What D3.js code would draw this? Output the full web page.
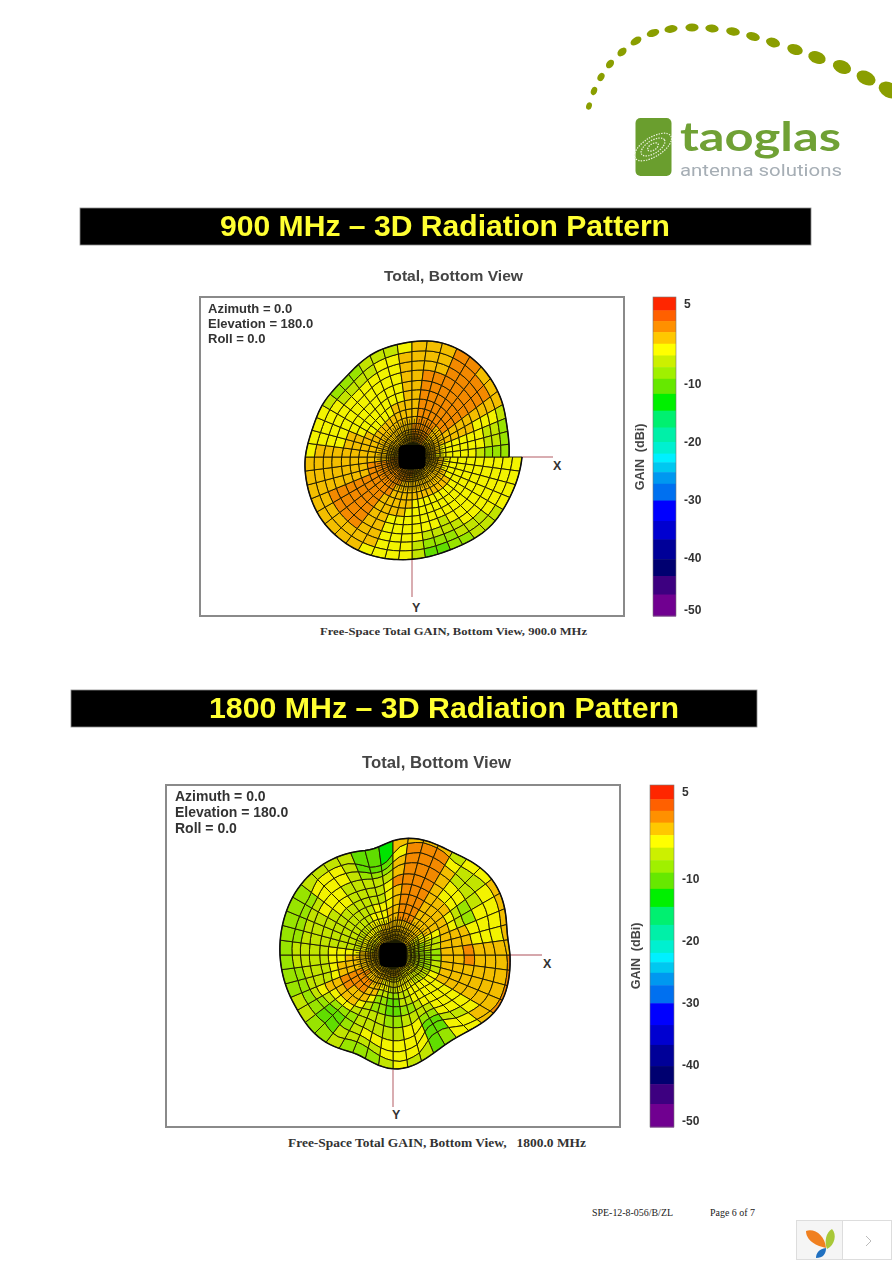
<!DOCTYPE html>
<html><head><meta charset="utf-8">
<script src="https://cdn.jsdelivr.net/npm/d3@7/dist/d3.min.js"></script>
<style>html,body{margin:0;padding:0;background:#fff;overflow:hidden}svg{display:block}</style>
</head><body><div id="c"></div>
<script>
const gainThresholds=[2.7,.85,-1.05,-3.06,-5.08,-7.1,-9.1,-11.7,-14.6,-17.5,-20,-22,-23.5,-25.2,-27.2,-30.1,-33.6,-36.8,-40.2,-43.1,-46.3];
const bandColors=["#ff2800","#ff6000","#ff9000","#ffc800","#ffff00","#ccf000","#a0f000","#66e800","#00f000","#00f070","#00f0a8","#00f0d0","#00f0ff","#00c8f0","#0098f0","#0070f0","#0000ff","#0000d0","#000098","#000070","#3c0080","#700090"];
const gainTicks=[5,-10,-20,-30,-40,-50];
const ringFractions=[.13,.165,.2,.24,.29,.35,.42,.5,.58,.66,.75,.83,.915,1];
const extraRings=[.15,.18,.22];
// rim radius per azimuth, every 10 degrees clockwise from +X in this bottom view (37 values; first/last differ at the seam)
const rim900=[1.10,1.08,1.06,1.05,1.05,1.03,1.01,1.00,1.01,1.02,1.04,1.06,1.08,1.09,1.10,1.10,1.09,1.08,1.07,1.04,1.03,1.04,1.03,1.03,1.07,1.11,1.13,1.15,1.18,1.18,1.16,1.13,1.09,1.05,1.00,.98,.97];
const rim1800=[1.17,1.18,1.19,1.17,1.10,1.04,1.03,1.07,1.13,1.15,1.10,1.04,1.08,1.11,1.11,1.10,1.11,1.12,1.13,1.14,1.15,1.16,1.16,1.15,1.13,1.10,1.06,1.15,1.19,1.19,1.18,1.22,1.25,1.24,1.20,1.15,1.17];
const gain900=[
[-2,-2,-2,-2,-3.5,-3.5,-4,-4,-4,-4,-4,-4,-4],
[-2,-2,-2,-2,-3.5,-3.5,-4,-4,-4,-4,-4,-4,-4],
[-2,-2,-2,-2,-2.5,-3.5,-3.5,-4,-4,-4,-4,-4,-4],
[-2,-2,-2,-2,-2,-2.5,-3.5,-4,-4,-4,-4,-4,-5.5],
[-2,-2,-2,-2,-2,-2.5,-3.5,-4,-4,-4,-4,-5.5,-6],
[-2,-2,-2,-2,-2,-2.5,-3.5,-3.5,-4,-4,-5.5,-6,-7.5],
[-2,-2,-2,-2,-2,-2.5,-3.5,-4,-4,-5.5,-6,-8,-8],
[-2,-2,-2,-2,-2,-2.5,-3.5,-4,-4,-4,-6,-8,-9.5],
[-1,-2,-2,-2,-2,-2,-3.5,-3.5,-4,-4,-4,-5.5,-6],
[-1,-1,-2,-2,-2,-2,-2.5,-3.5,-4,-4,-4,-4,-4],
[-1,-1,-1,-2,-2,-2,-2,-2.5,-3.5,-4,-4,-3.5,-3.5],
[-1,-1,-1,-1,-2,-2,-2,-2,-2,-2.5,-2.5,-2.5,-3.5],
[-.9,-.9,-.9,-.9,-.9,-.9,-1.5,-1.5,-1.5,-1.5,-2,-2,-2.5],
[-.9,-.9,-.9,-.9,-.5,-.5,-.5,-.9,-.5,-.5,-.5,-1.5,-2],
[-.9,-.9,-.9,-.5,-.5,-.5,-.5,-.5,-.5,-.5,-.5,-1.5,-2],
[-.9,-.9,-.9,-.5,-.5,-.5,-.5,-.5,-.5,-.5,-.9,-1.5,-2],
[-.9,-.9,-.9,-.5,-.5,-.5,-1.5,-1.5,-1.5,-1.5,-2,-2,-2],
[-1,-1,-1.5,-1.5,-1.5,-1.5,-1.5,-2,-2,-2,-2,-2,-2],
[-1.5,-1.5,-1.5,-2,-2,-2,-2,-2,-2,-2.5,-2.5,-2.5,-3.5],
[-2,-2,-2,-2,-2,-2,-2,-2.5,-2.5,-3.5,-3.5,-3.5,-3.5],
[-2,-2,-2,-2,-2,-2,-2.5,-3.5,-3.5,-4,-4,-4,-4.5],
[-2,-2,-2,-2,-2,-2.5,-3.5,-3.5,-4,-4,-4,-4.5,-5.5],
[-2,-2,-2,-2,-2,-2.5,-3.5,-3.5,-4,-4,-4.5,-5.5,-7.5],
[-2,-2,-2,-2,-2.5,-2.5,-3.5,-4,-4,-4,-4.5,-5.5,-7.5],
[-2,-2,-2,-2,-2.5,-2.5,-3.5,-4,-4,-4,-4,-5.5,-6],
[-2,-2,-2,-2,-2,-2.5,-2.5,-3.5,-3.5,-3.5,-4,-4,-5.5],
[-1.5,-1.5,-2,-2,-2,-2,-2,-2.5,-2.5,-2.5,-2.5,-2.5,-3.5],
[-.9,-.9,-.9,-.9,-1.5,-1.5,-1.5,-1.5,-1.5,-1.5,-2,-2,-2],
[-.9,-.9,-.5,-.5,-.5,-.5,-.5,-.5,-.9,-.9,-1.5,-1.5,-1.5],
[-.9,-.9,-.5,-.5,-.5,-.5,-.5,-.5,-.5,-.5,-.5,-.5,-.5],
[-1,-1,-.9,-.5,-.5,-.5,-.5,-.5,-.5,-.5,-.5,-.5,-.5],
[-1.5,-1.5,-1.5,-1.5,-1.5,-.9,-.9,-.5,-.5,-.5,-.5,-.9,-1.5],
[-2,-2,-2,-2,-2,-1.5,-1.5,-1.5,-1.5,-1.5,-2,-2,-2.5],
[-2,-2,-2,-2.5,-2.5,-2.5,-2.5,-2.5,-2.5,-3.5,-3.5,-3.5,-5.5],
[-2,-2,-2.5,-2.5,-3.5,-3.5,-3.5,-3.5,-4,-4,-5.5,-6,-7.5],
[-2,-2.5,-2.5,-3.5,-3.5,-3.5,-4,-4,-4.5,-6,-7.5,-9,-8]];
const gain1800=[
[-5,-6,-7,-8,-9,-8,-2,-1.5,-.5,-1.5,-1.5,-1.5,-.5],
[-5,-6,-7,-8,-8,-7,-2,-1.5,-1.5,-2,-2,-1.5,-.5],
[-4,-5,-6,-7,-7,-5,-2.5,-2,-2.5,-2.8,-2.5,-1.5,-.5],
[-3,-4,-5,-6,-6,-4.5,-3.5,-3.5,-4,-4,-4,-3,-2.5],
[-3,-4,-4.5,-5.5,-5.5,-4.5,-4,-4,-4,-4.5,-5.5,-4.5,-4],
[-3,-3.5,-4,-4.5,-4.5,-4,-4,-4.5,-5.5,-7.5,-9.5,-10,-8],
[-3,-3.5,-4,-4,-4,-4,-4.5,-5.5,-6,-8,-10,-10,-9.5],
[-3,-3,-3.5,-4,-4.5,-5.5,-6.5,-7.5,-6,-4.5,-4,-4,-5.5],
[-2.5,-3,-3.5,-4.5,-5.5,-7.5,-9.5,-9.5,-7.5,-5.5,-3.5,-3.5,-4],
[-2.5,-3,-3.5,-4.5,-5.5,-8,-9.5,-9.5,-7.5,-5.5,-4,-4,-6],
[-2,-2.5,-3,-3.5,-4.5,-6,-8,-7.5,-6,-5.5,-4.5,-5.5,-7.5],
[-2,-2,-2.5,-2.5,-2.5,-3,-4.5,-5.5,-6,-6,-6,-6.5,-8],
[-2,-2,-2,-2,-1.5,-1.5,-2,-3.5,-5.5,-8,-8,-6,-6],
[-2,-2,-1.5,-1.5,-.5,-.5,-1.5,-2.5,-4.5,-7.5,-10,-9.5,-7.5],
[-2,-2,-1.5,-1,-.5,-.5,-.5,-1.5,-3.5,-5.5,-8,-8.5,-6],
[-2,-2,-1.5,-1.5,-1,-.5,-1,-1.5,-2.5,-4,-5.5,-7.5,-6],
[-2.5,-2.5,-2.5,-2,-2,-1.5,-2.5,-3.5,-5.5,-5.5,-5.5,-7.5,-7.5],
[-2.8,-2.8,-2.8,-2.5,-2.5,-2.5,-3.5,-4,-5.5,-5.5,-5.5,-6.5,-7.5],
[-2.8,-2.8,-2.8,-2.8,-3.5,-3.5,-4,-4.5,-5.5,-6,-6,-6,-7.5],
[-2.8,-3.5,-4,-4.5,-5.5,-5.5,-5.5,-6,-6,-6,-6,-7.5,-7.5],
[-2.8,-3.5,-4,-4.5,-5.5,-5.5,-6,-6,-6,-5.5,-6,-7.5,-8.5],
[-2.8,-3.5,-4,-4.5,-5.5,-5.5,-5.5,-6,-5.5,-4.5,-5.5,-7.5,-8.5],
[-2.8,-3.5,-4,-4.5,-5.5,-5.5,-5.5,-5.5,-4.5,-4.5,-4.5,-3.5,-6],
[-2.8,-2.8,-3.5,-4,-4.5,-5.5,-5.5,-5.5,-5.5,-5.5,-4.5,-3.5,-6],
[-2.5,-2.8,-2.8,-3.5,-4,-4.5,-5.5,-5.5,-6,-6,-5.5,-5.5,-6],
[-2,-2.5,-2.8,-2.8,-3.5,-4,-4.5,-5.5,-6,-6,-7.5,-10,-11],
[-2,-2,-2.5,-2.5,-2.8,-2.8,-3.5,-4,-4.5,-5.5,-8,-11,-12],
[-1.5,-1.5,-2,-2,-1.5,-1.5,-1.5,-1.5,-1,-2,-2.8,-3.5,-2.5],
[-1.5,-1.5,-1.5,-1.5,-1,-.5,-.5,-.5,-.5,-.5,-.5,-.5,-1.5],
[-2,-2,-1.5,-1.5,-1,-.5,-.5,-.5,-.5,-.5,-.5,-1,-1.5],
[-2,-2,-2,-2,-1.5,-1.5,-1.5,-1.5,-1.5,-2,-2.5,-4,-5.5],
[-2.5,-2.8,-2.8,-2.8,-2.5,-2,-2,-2.5,-3.5,-4.5,-5.5,-5.5,-4],
[-2.8,-3.5,-3.5,-3.5,-2.8,-2.5,-2.5,-3.5,-5.5,-7.5,-6,-4,-2.8],
[-4,-4.5,-5.5,-4.5,-4,-3.5,-2.8,-4,-6.5,-7.5,-4.5,-3.5,-2.5],
[-4.5,-5.5,-6.5,-7.5,-6.5,-5.5,-2.5,-2,-2.5,-3.5,-4,-3.5,-2.5],
[-5,-6,-7.5,-8,-8.5,-7.5,-2,-1.5,-1,-1.5,-2,-2,-1.5]];

const W=892,H=1262;
const svg=d3.select("#c").append("svg").attr("width",W).attr("height",H).attr("viewBox",[0,0,W,H]);
const defs=svg.append("defs");
defs.append("filter").attr("id","soft").attr("x","-5%").attr("y","-5%").attr("width","110%").attr("height","110%").append("feGaussianBlur").attr("stdDeviation",.45);
defs.append("filter").attr("id","softT").attr("x","-5%").attr("y","-20%").attr("width","110%").attr("height","140%").append("feGaussianBlur").attr("stdDeviation",.35);
svg.append("rect").attr("width",W).attr("height",H).attr("fill","#fff");
const SANS="'Liberation Sans',Arial,sans-serif",SERIF="'Liberation Serif','Times New Roman',serif";
function txt(g,x,y,s,o={}){return g.append("text").attr("x",x).attr("y",y).attr("font-family",o.f||SANS).attr("font-size",o.s||12).attr("font-weight",o.w||"normal").attr("fill",o.c||"#222").attr("text-anchor",o.a||"start").attr("textLength",o.l||null).attr("lengthAdjust",o.l?"spacingAndGlyphs":null).text(s);}

// ---- logo
const logoDots=[[589,106,2.8,3.8],[594,91,3,4.2],[601,77,3.2,4.4],[610,64,3.4,4.8],[622,52,3.6,5.2],[636,41,3.6,6],[653,33,3.7,6.5],[671,29,3.8,6.6],[692,27.5,4,6.6],[712,28.5,4,6.7],[733,31.5,4.1,6.9],[753,36.5,4.2,7],[773,42.5,4.6,7.2],[795,49.5,5.2,8],[817,57.5,6,9],[842,67,6.4,9.5],[866,78,6.8,10],[889,90,7.5,11]];
const logo=svg.append("g").attr("filter","url(#softT)");
logoDots.forEach((d,i)=>{const a=logoDots[Math.max(i-1,0)],b=logoDots[Math.min(i+1,logoDots.length-1)];
 const rot=Math.atan2(b[1]-a[1],b[0]-a[0])*180/Math.PI;
 logo.append("ellipse").attr("transform",`translate(${d[0]},${d[1]}) rotate(${rot})`).attr("rx",d[3]).attr("ry",d[2]).attr("fill","#8a9e00");});
logo.append("rect").attr("x",635.5).attr("y",118).attr("width",36).attr("height",58).attr("rx",5).attr("fill","#6a9e2e");
[[14,6],[9,4],[4,2]].forEach(e=>logo.append("ellipse").attr("transform","translate(653,147) rotate(-32)").attr("rx",e[0]*1.5).attr("ry",e[1]*1.6).attr("fill","none").attr("stroke","#eef4e0").attr("stroke-width",1.2).attr("stroke-dasharray","1.4 1.2"));
txt(logo,680,151,"taoglas",{f:"Lato,'Open Sans',sans-serif",s:41,w:"bold",c:"#6fa136",l:161});
txt(logo,680,175.5,"antenna solutions",{f:"Roboto,'Open Sans',sans-serif",s:16.5,c:"#a6aeb5",l:162});

// ---- banners
function banner(x0,x1,y0,y1,s,tx,tl,size){
 svg.append("rect").attr("x",x0).attr("y",y0).attr("width",x1-x0).attr("height",y1-y0).attr("fill","#000").attr("stroke","#8a8a8a").attr("stroke-width",.8);
 txt(svg,tx,y1-9,s,{s:size,w:"bold",c:"#ffff33",l:tl}).attr("filter","url(#softT)");
}
banner(80,811,208,245,"900 MHz – 3D Radiation Pattern",220,450,29);
banner(71,757,690,727,"1800 MHz – 3D Radiation Pattern",209,470,29);

// ---- patterns
const colour=d3.scaleThreshold().domain(gainThresholds.slice().reverse()).range(bandColors.slice().reverse());
const rScale=d3.scaleLinear().domain([0,1.25]).range([0,125]);
const azScale=d3.scaleLinear().domain([0,360]).range([0,2*Math.PI]);
const meshStep=7.5;
const meshAz=d3.range(0,360+meshStep/2,meshStep);
function pattern(cfg){
 const g=svg.append("g");
 const fr=cfg.frame;
 g.append("rect").attr("x",fr[0]).attr("y",fr[1]).attr("width",fr[2]-fr[0]).attr("height",fr[3]-fr[1]).attr("fill","#fff").attr("stroke","#8a8a8a").attr("stroke-width",2).attr("filter","url(#softT)");
 txt(g,cfg.title[0],cfg.title[1],"Total, Bottom View",{s:cfg.title[2],w:"bold",c:"#444",l:cfg.title[3]}).attr("filter","url(#softT)");
 ["Azimuth = 0.0","Elevation = 180.0","Roll = 0.0"].forEach((s,i)=>txt(g,cfg.note[0],cfg.note[1]+i*cfg.note[2],s,{s:cfg.note[3],w:"bold",c:"#333"}).attr("filter","url(#softT)"));
 g.append("line").attr("x1",cfg.xs[0]).attr("x2",cfg.xs[1]).attr("y1",cfg.cy).attr("y2",cfg.cy).attr("stroke","#c98a90").attr("stroke-width",1.4);
 g.append("line").attr("x1",cfg.cx).attr("x2",cfg.cx).attr("y1",cfg.ys[0]).attr("y2",cfg.ys[1]).attr("stroke","#c98a90").attr("stroke-width",1.4);
 txt(g,cfg.xl[0],cfg.xl[1],"X",{s:12.5,w:"bold",c:"#333"});
 txt(g,cfg.yl[0],cfg.yl[1],"Y",{s:12.5,w:"bold",c:"#333"});
 // mesh
 const m=g.append("g").attr("transform",`translate(${cfg.cx},${cfg.cy})`).attr("filter","url(#soft)");
 const gains=cfg.gain,rings=ringFractions.length-1,n=gains.length;
 const rimAt=d3.interpolateBasis(cfg.rim);
 const ringMean=d3.range(rings).map(j=>d3.mean(gains,r=>r[j]));
 const rowAt=a=>gains[Math.floor(((a%360)+360)%360/10)];
 // radial ripple of a mesh corner follows the gain of the rows around it
 const cornerWobble=(a,j)=>{if(j>=rings||cfg.wobble===0)return 1;
  const t=((a-5)%360+360)%360/10,i0=Math.floor(t),w=t-i0,u=gains[i0%n],v=gains[(i0+1)%n],jl=Math.max(j-1,0),jh=j;
  const gu=(u[jl]+u[jh])/2,gv=(v[jl]+v[jh])/2;
  return 1+cfg.wobble*(gu*(1-w)+gv*w-(ringMean[jl]+ringMean[jh])/2);};
 const pt=(a,f,w=1)=>{const t=azScale(a),r=rScale(rimAt(a/360)*f*w);return[r*Math.cos(t),r*Math.sin(t)];};
 const corner=(a,j)=>pt(a,ringFractions[j],cornerWobble(a,j));
 const path=d3.line();
 const cells=[];
 meshAz.slice(0,-1).forEach(a=>d3.range(rings).forEach(j=>cells.push({a,j,v:rowAt(a+meshStep/2)[j]})));
 m.append("path").attr("d",path(meshAz.map(a=>corner(a,0)))+"Z").attr("fill","#1c1c00");
 m.selectAll("path.cell").data(cells).join("path").attr("class","cell")
  .attr("d",d=>{const a2=d.a+meshStep,am=d.a+meshStep/2;return path([corner(d.a,d.j),corner(am,d.j),corner(a2,d.j),corner(a2,d.j+1),corner(am,d.j+1),corner(d.a,d.j+1)])+"Z";})
  .attr("fill",d=>d3.color(colour(d.v)).darker(.14)).attr("stroke","#1e1a00").attr("stroke-width",.95).attr("stroke-linejoin","round");
 // denser inner mesh, dark olive
 extraRings.forEach(f=>m.append("path").attr("d",path(meshAz.map(a=>pt(a,f)))).attr("fill","none").attr("stroke","#1e1a00").attr("stroke-width",.8));
 meshAz.slice(0,-1).forEach(a=>{const p=pt(a+meshStep/2,.13),q=pt(a+meshStep/2,.33);m.append("line").attr("x1",p[0]).attr("y1",p[1]).attr("x2",q[0]).attr("y2",q[1]).attr("stroke","#1e1a00").attr("stroke-width",.7);});
 m.append("path").attr("d",d3.line().curve(d3.curveLinear)(d3.range(0,361,2.5).map(a=>pt(a,1)))).attr("fill","none").attr("stroke","#111").attr("stroke-width",1.5);
 // dense black core
 m.append("rect").attr("x",-13.5).attr("y",-12).attr("width",27).attr("height",24).attr("rx",5).attr("fill","#000");
 // colour bar
 const b=cfg.bar;
 const y=d3.scaleLinear().domain([5,-50]).range([b[2],b[3]]);
 const uppers=[5,...gainThresholds],lowers=[...gainThresholds,-50];
 const bar=g.append("g").attr("filter","url(#softT)");
 bar.selectAll("rect").data(bandColors).join("rect").attr("x",b[0]).attr("width",b[1]-b[0])
  .attr("y",(d,i)=>y(uppers[i])).attr("height",(d,i)=>y(lowers[i])-y(uppers[i])+.5).attr("fill",d=>d);
 bar.append("rect").attr("x",b[0]).attr("y",b[2]).attr("width",b[1]-b[0]).attr("height",b[3]-b[2]).attr("fill","none").attr("stroke","#777").attr("stroke-width",.6);
 const ax=g.append("g").attr("transform",`translate(${b[1]},0)`).call(d3.axisRight(y).tickValues(gainTicks).tickSize(0).tickPadding(b[4]).tickFormat(String));
 ax.select(".domain").remove();
 ax.selectAll("text").attr("font-family",SANS).attr("font-size",12).attr("font-weight","bold").attr("fill","#333").attr("filter","url(#softT)")
  .attr("dy",d=>d===5?"0.88em":d===-50?"-0.2em":"0.32em");
 g.append("text").attr("transform",`translate(${cfg.gl[0]},${cfg.gl[1]}) rotate(-90)`).attr("text-anchor","middle").attr("font-family",SANS).attr("font-size",12.5).attr("font-weight","bold").attr("fill","#444").attr("filter","url(#softT)").attr("xml:space","preserve").text("GAIN  (dBi)");
 txt(g,cfg.cap[0],cfg.cap[1],cfg.cap[2],{f:SERIF,s:cfg.cap[4],w:"bold",c:"#333",l:cfg.cap[3]}).attr("xml:space","preserve");
}
pattern({frame:[200,297,624,616],title:[384,281,15,139],note:[208,312.5,15,13],cx:412,cy:457,xs:[522,553],ys:[559,597],xl:[553,470],yl:[412,612],
 gain:gain900,rim:rim900,wobble:0,bar:[653,676,297,616,8],gl:[644,457],cap:[320,635,"Free-Space Total GAIN, Bottom View, 900.0 MHz",267,11]});
pattern({frame:[166,785,620,1127],title:[362,768,16,149],note:[175,801,16,14],cx:393,cy:955,xs:[507,542],ys:[1070,1107],xl:[543,968],yl:[392,1119],
 gain:gain1800,rim:rim1800,wobble:.016,bar:[650,674,785,1127,8],gl:[640,956],cap:[288,1147,"Free-Space Total GAIN, Bottom View,   1800.0 MHz",298,12]});

// ---- footer
txt(svg,592,1216,"SPE-12-8-056/B/ZL",{f:SERIF,s:10,c:"#222",l:81});
txt(svg,710,1216,"Page 6 of 7",{f:SERIF,s:10,c:"#222",l:45});
const wg=svg.append("g");
wg.append("rect").attr("x",796.5).attr("y",1220.5).attr("width",46).attr("height",39).attr("fill","#f5f5f5").attr("stroke","#ddd");
wg.append("rect").attr("x",842.5).attr("y",1220.5).attr("width",49).attr("height",39).attr("fill","#fff").attr("stroke","#ddd");
wg.append("path").attr("d","M806,1231 C815,1228 825,1236 826,1248 C817,1246 806,1241 806,1231Z").attr("fill","#f08020");
wg.append("path").attr("d","M832,1229 C837,1234 835,1245 827,1249 C824,1242 826,1232 832,1229Z").attr("fill","#a8c838");
wg.append("path").attr("d","M826,1248 C826,1254 823,1258 816,1258 C816,1253 819,1249 826,1248Z").attr("fill","#2070c0");
wg.append("path").attr("d","M866,1236 L871,1241 L866,1246").attr("fill","none").attr("stroke","#bbb").attr("stroke-width",1);
</script></body></html>
